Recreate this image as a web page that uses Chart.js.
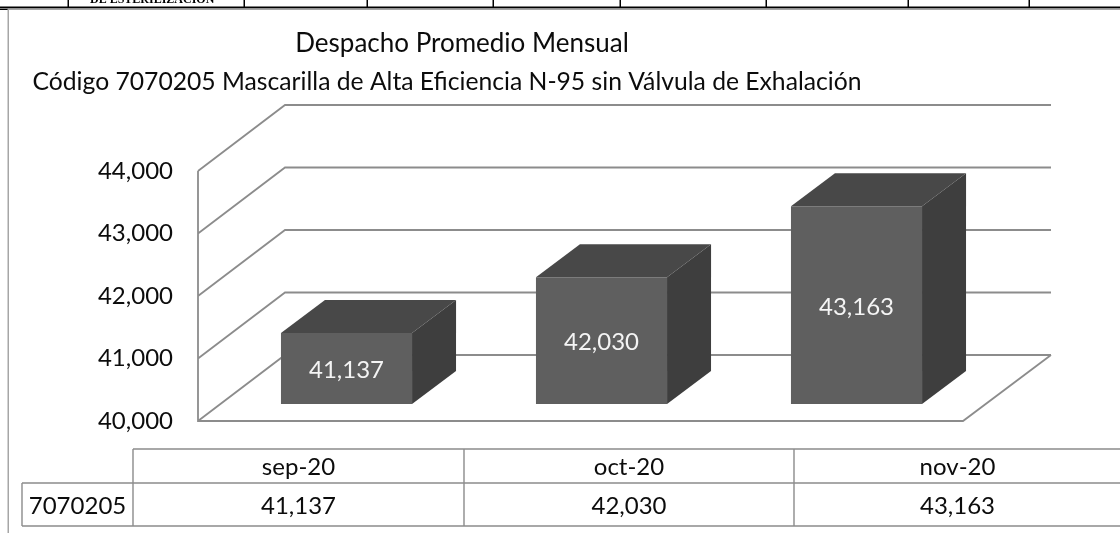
<!DOCTYPE html>
<html><head><meta charset="utf-8">
<script src="https://cdn.jsdelivr.net/npm/chart.js@4"></script>
<style>html,body{margin:0;padding:0;background:#fff}#w{position:relative;width:1120px;height:533px}canvas{display:block}</style>
</head><body><div id="w"><canvas id="c" width="1120" height="533"></canvas></div>
<script>
const categories = ["sep-20", "oct-20", "nov-20"];
const values = [41137, 42030, 43163];
const seriesName = "7070205";
const titleLines = ["Despacho Promedio Mensual", "Código 7070205 Mascarilla de Alta Eficiencia N-95 sin Válvula de Exhalación"];
const topStripText = "DE ESTERILIZACION";

const FONT = "Lato, Carlito, Calibri, sans-serif";
const TXT = "#0c0c0c", GRID = "#8c8c8c";
const FRONT = "#5f5f5f", TOP = "#484848", SIDE = "#3e3e3e";
const fmt = v => Number(v).toLocaleString("en-US");
const wall = {dx: 87, dy: -66}, barShift = {dx: 21, dy: -17}, barDepth = {dx: 44, dy: -33};

function poly(ctx, pts, fill){
  ctx.beginPath(); pts.forEach((p,i)=> i?ctx.lineTo(p[0],p[1]):ctx.moveTo(p[0],p[1])); ctx.closePath();
  ctx.fillStyle = fill; ctx.fill();
}
const scene = {
  id: "scene",
  beforeDraw(chart){
    const ctx = chart.ctx;
    ctx.save();
    ctx.fillStyle = "#fff"; ctx.fillRect(0,0,1120,533);
    // strip of the page table above the chart
    ctx.fillStyle = "#000";
    ctx.fillRect(0,6.5,1120,2);
    [68,244,367,493,620,766,908,1029].forEach(x=>ctx.fillRect(x-0.5,0,1.5,7));
    ctx.fillRect(0,9,8,1);
    ctx.font = "bold 12px 'Liberation Serif'"; ctx.textAlign="left"; ctx.textBaseline="alphabetic";
    ctx.fillText(topStripText, 90, 2.5);
    // chart frame
    ctx.fillStyle = "#a6a6a6";
    ctx.fillRect(8,8.5,1112,1.5); ctx.fillRect(7.5,9,1.5,524);
    // title
    ctx.fillStyle = TXT; ctx.font = "26px "+FONT; ctx.textAlign = "center";
    ctx.fillText(titleLines[0], 462, 52);
    ctx.font = "24.7px "+FONT;
    ctx.fillText(titleLines[1], 447, 90);
    // data table
    const xs=[22,133,464,794,1121], yT=449, yM=483, yB=526;
    ctx.strokeStyle = GRID; ctx.lineWidth = 1.4; ctx.beginPath();
    ctx.moveTo(133,yT); ctx.lineTo(1120,yT);
    ctx.moveTo(22,yM); ctx.lineTo(1120,yM);
    ctx.moveTo(22,yB); ctx.lineTo(1120,yB);
    ctx.moveTo(22,yM); ctx.lineTo(22,yB);
    xs.slice(1,4).forEach(x=>{ctx.moveTo(x,yT);ctx.lineTo(x,yB);});
    ctx.stroke();
    ctx.fillStyle = TXT; ctx.font = "24px "+FONT;
    ctx.fillText(seriesName,(xs[0]+xs[1])/2,514);
    categories.forEach((c,i)=>{
      const cx=(xs[i+1]+xs[i+2])/2;
      ctx.fillText(c,cx,475);
      ctx.fillText(fmt(values[i]),cx,514);
    });
    ctx.restore();
  },
  beforeDatasetsDraw(chart){
    const ctx = chart.ctx, y = chart.scales.y, x0 = chart.chartArea.left, x1 = chart.chartArea.right;
    ctx.save();
    ctx.strokeStyle = GRID; ctx.lineWidth = 1.8; ctx.beginPath();
    y.ticks.forEach(t=>{
      const py = y.getPixelForValue(t.value);
      ctx.moveTo(x0,py); ctx.lineTo(x0+wall.dx,py+wall.dy); ctx.lineTo(x1+wall.dx+1,py+wall.dy);
    });
    const b = y.bottom;
    ctx.moveTo(x0,y.top); ctx.lineTo(x0,b); ctx.lineTo(x1,b); ctx.lineTo(x1+wall.dx+1,b+wall.dy);
    ctx.stroke();
    chart.getDatasetMeta(0).data.forEach(el=>{
      const l = el.x-el.width/2+barShift.dx, r = el.x+el.width/2+barShift.dx;
      const t = el.y+barShift.dy, bt = y.bottom+barShift.dy, d = barDepth;
      poly(ctx,[[l,t],[r,t],[r+d.dx,t+d.dy],[l+d.dx,t+d.dy]],TOP);
      poly(ctx,[[r,t],[r+d.dx,t+d.dy],[r+d.dx,bt+d.dy],[r,bt]],SIDE);
    });
    ctx.restore();
  },
  beforeDatasetDraw(chart){ chart.ctx.save(); chart.ctx.translate(barShift.dx, barShift.dy); },
  afterDatasetDraw(chart){ chart.ctx.restore(); },
  afterDatasetsDraw(chart){
    const ctx = chart.ctx, y = chart.scales.y; ctx.save();
    ctx.fillStyle = "#f4f4f4"; ctx.font = "24px "+FONT; ctx.textAlign="center"; ctx.textBaseline="middle";
    chart.getDatasetMeta(0).data.forEach((el,i)=>{
      ctx.fillText(fmt(values[i]), el.x+barShift.dx, (el.y+y.bottom)/2+barShift.dy+2);
    });
    ctx.restore();
  }
};
new Chart(document.getElementById("c"),{
  type:"bar",
  data:{labels:categories,datasets:[{label:seriesName,data:values,backgroundColor:FRONT,borderWidth:0,barPercentage:1,categoryPercentage:0.514}]},
  plugins:[scene],
  options:{
    responsive:false,animation:false,
    layout:{padding:{left:0,right:157,top:171,bottom:112}},
    plugins:{legend:{display:false},tooltip:{enabled:false},title:{display:false}},
    scales:{
      x:{display:false,offset:true,grid:{display:false}},
      y:{min:40000,max:44000,
         afterFit(s){s.width=198;},
         border:{display:false},
         grid:{display:false,drawTicks:false},
         ticks:{stepSize:1000,padding:25,color:TXT,font:{family:FONT,size:24},callback:v=>fmt(v)}}
    }
  }
});
</script></body></html>
